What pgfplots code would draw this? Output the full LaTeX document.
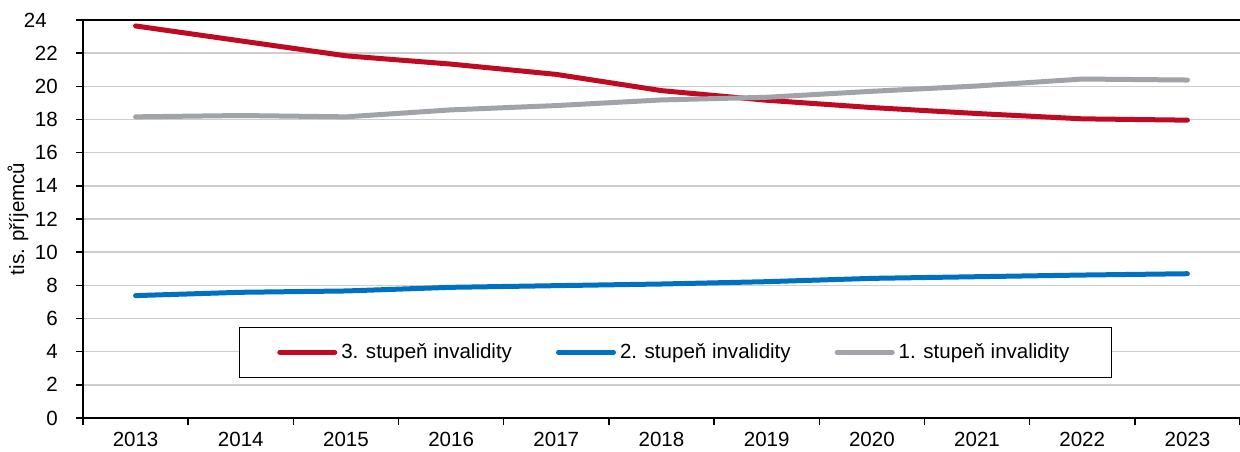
\documentclass[border=0pt]{standalone}
\usepackage{pgfplots}
\pgfplotsset{compat=1.18}
\usepackage{fontspec}
\setmainfont{Liberation Sans}
\definecolor{cred}{RGB}{192,10,35}
\definecolor{cblue}{RGB}{0,112,192}
\definecolor{cgray}{RGB}{160,163,168}
\definecolor{cgrid}{RGB}{205,205,205}
\begin{document}
\fontsize{10.3}{12.4}\selectfont
\begin{tikzpicture}
\begin{axis}[
  scale only axis, width=578.5bp, height=199bp,
  xmin=-0.5, xmax=10.5, ymin=0, ymax=24,
  axis x line*=bottom, axis y line*=left,
  axis line style={black, line width=0.8bp},
  /pgf/number format/assume math mode=true,
  xtick={-0.5,0.5,1.5,2.5,3.5,4.5,5.5,6.5,7.5,8.5,9.5,10.5},
  x tick label as interval,
  xticklabels={2013,2014,2015,2016,2017,2018,2019,2020,2021,2022,2023},
  ytick={0,2,...,22},
  extra y ticks={24},
  extra y tick style={ymajorgrids=true, major grid style={black, line width=0.8bp}, yticklabel style={xshift=-5.5bp}},
  ymajorgrids=true,
  grid style={cgrid, line width=0.7bp},
  major grid style={cgrid, line width=0.7bp},
  tick align=outside, major tick length=3.5bp,
  tick style={black, line width=0.7bp},
  ticklabel style={font=\fontsize{10.3}{12.4}\selectfont},
  yticklabel style={xshift=-5.5bp},
  every axis y label/.style={at={(axis description cs:0,0.5)}, rotate=90, anchor=center, yshift=32.5bp},
  ylabel={tis. příjemců},
  legend columns=3,
  legend style={at={(0.512,0.165)}, anchor=center, draw=black, line width=0.6bp,
    inner xsep=19bp, inner ysep=6bp,
    font=\fontsize{10.3}{12.4}\selectfont,
    /tikz/every odd column/.append style={column sep=0bp},
    /tikz/every even column/.append style={column sep=20bp}},
  legend image code/.code={\draw[#1, line width=2.5bp] (0bp,0bp) -- (27.5bp,0bp);},
  every axis plot/.append style={line width=2.5bp, line cap=round, line join=round, no markers},
]
\addplot[cred] coordinates {(0,23.64) (1,22.74) (2,21.84) (3,21.34) (4,20.72) (5,19.74) (6,19.16) (7,18.72) (8,18.36) (9,18.04) (10,17.96)};
\addlegendentry{3. stupeň invalidity}
\addplot[cblue] coordinates {(0,7.38) (1,7.58) (2,7.66) (3,7.88) (4,7.98) (5,8.08) (6,8.22) (7,8.42) (8,8.52) (9,8.62) (10,8.70)};
\addlegendentry{2. stupeň invalidity}
\addplot[cgray] coordinates {(0,18.16) (1,18.24) (2,18.16) (3,18.58) (4,18.84) (5,19.18) (6,19.34) (7,19.70) (8,20.02) (9,20.44) (10,20.38)};
\addlegendentry{1. stupeň invalidity}
\end{axis}
\pgfresetboundingbox
\path ([xshift=-41.5bp,yshift=-17bp]current axis.south west) rectangle ([yshift=10bp]current axis.north east);
\end{tikzpicture}
\end{document}
